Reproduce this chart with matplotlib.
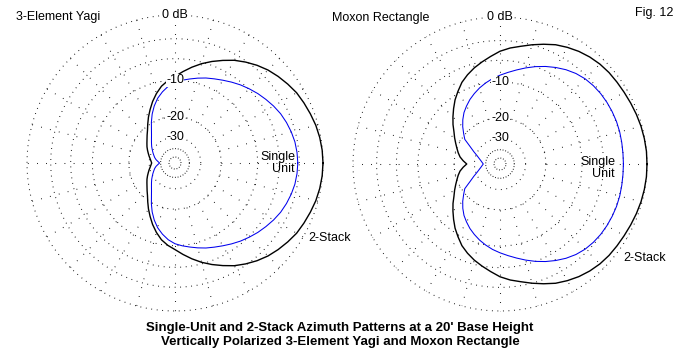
import numpy as np
import matplotlib
matplotlib.use("Agg")
import matplotlib.pyplot as plt

plt.rcParams['font.family'] = ['Liberation Sans', 'DejaVu Sans']

## azimuth angles (deg) 0..180, patterns are symmetric about the boresight
angles = list(range(0, 181, 5))

## 3-Element Yagi (dB)
yagi_single = [-3.2, -3.25, -3.35, -3.55, -3.8, -4.1, -4.5, -4.95, -5.4, -5.9,
               -6.4, -6.95, -7.5, -8.0, -8.45, -8.95, -9.45, -9.9, -10.4,
               -11.2, -12.3, -13.6, -15.3, -17.3, -19.6, -22.0, -24.0, -25.6,
               -27.0, -28.3, -29.7, -31.0, -32.3, -33.5, -35.0, -37.0, -38.8]
yagi_stack = [0.0, -0.03, -0.12, -0.26, -0.47, -0.68, -0.9, -1.25, -1.62, -2.03,
              -2.55, -3.15, -3.8, -4.6, -5.4, -6.25, -7.2, -8.2, -9.2,
              -10.0, -11.0, -12.4, -14.0, -15.8, -17.6, -19.5, -21.3, -22.7,
              -24.0, -25.1, -26.1, -27.2, -28.3, -29.3, -30.3, -31.1, -31.7]

## Moxon Rectangle (dB)
moxon_single = [-3.0, -3.0, -2.97, -2.93, -2.92, -2.95, -3.0, -3.08, -3.22, -3.42,
                -3.75, -4.2, -4.75, -5.35, -6.0, -6.7, -7.4, -8.05, -8.65,
                -9.25, -9.95, -10.7, -11.55, -12.45, -13.5, -14.6, -16.0, -17.6,
                -19.4, -21.1, -25.0, -28.0, -30.8, -32.9, -34.7, -36.1, -37.3]
moxon_stack = [0.0, 0.0, -0.05, -0.12, -0.22, -0.33, -0.43, -0.5, -0.56, -0.68,
               -0.88, -1.15, -1.5, -1.9, -2.45, -3.0, -3.55, -4.0, -4.55,
               -5.3, -6.0, -6.7, -7.5, -8.4, -9.6, -10.8, -12.2, -13.6,
               -15.0, -16.5, -17.7, -18.9, -20.0, -21.0, -22.1, -23.7, -25.5]

ring_db = [0, -3, -6, -10, -20, -30]
ring_labels = {0: '0 dB', -10: '-10', -20: '-20', -30: '-30'}

W, H = 680, 360


def arrl(db):
    # ARRL log scale: 0.89 radius factor per 2 dB
    return 0.89 ** (-np.asarray(db) / 2.0)


def full(vals):
    v = list(vals)
    return v + v[-2::-1]


def polar_panel(cx, cy, R, single, stack):
    ax = fig.add_axes([(cx - 1.2 * R) / W, (H - cy - 1.2 * R) / H, 2.4 * R / W, 2.4 * R / H])
    ax.set_xlim(-1.2, 1.2)
    ax.set_ylim(-1.2, 1.2)
    ax.axis('off')
    t = np.linspace(0, 2 * np.pi, 400)
    for db in ring_db:
        r = arrl(db)
        ax.plot(r * np.cos(t), r * np.sin(t), color='black', lw=0.75,
                linestyle=(0, (0.8, 4.5)))
    for db in [-40, -55]:
        r = arrl(db)
        ax.plot(r * np.cos(t), r * np.sin(t), color='black', lw=0.75,
                linestyle=(0, (0.8, 1.8)))
    for a in range(0, 360, 15):
        ra = np.radians(a)
        ax.plot([arrl(-20) * np.cos(ra), np.cos(ra)], [arrl(-20) * np.sin(ra), np.sin(ra)],
                color='black', lw=0.75, linestyle=(0, (0.8, 8.0)))
    th = np.radians(angles + [360 - a for a in angles[-2::-1]])
    rs = arrl(full(single))
    rk = arrl(full(stack))
    ax.plot(rk * np.cos(th), rk * np.sin(th), color='black', lw=1.0)
    ax.plot(rs * np.cos(th), rs * np.sin(th), color='#0000ee', lw=0.75)
    for db, lab in ring_labels.items():
        ax.text(0, arrl(db), lab, ha='center', va='center', fontsize=9,
                bbox=dict(facecolor='white', edgecolor='none', pad=0.3))
    return ax


fig = plt.figure(figsize=(6.8, 3.6), dpi=100)

polar_panel(175, 163, 148, yagi_single, yagi_stack)
polar_panel(500, 164, 147, moxon_single, moxon_stack)


def ftext(x, y, s, **kw):
    fig.text(x / W, 1 - y / H, s, fontsize=9, va='center', **kw)


ftext(16, 17, '3-Element Yagi', ha='left')
ftext(332, 18, 'Moxon Rectangle', ha='left')
ftext(673, 13, 'Fig. 12', ha='right')
ftext(295, 163, 'Single\nUnit', ha='right', linespacing=1.1)
ftext(615, 168, 'Single\nUnit', ha='right', linespacing=1.1)
ftext(308, 238, '2-Stack', ha='left')
ftext(623, 258, '2-Stack', ha='left')

fig.text(340 / W, 1 - 335 / H,
         "Single-Unit and 2-Stack Azimuth Patterns at a 20' Base Height\n"
         "Vertically Polarized 3-Element Yagi and Moxon Rectangle",
         ha='center', va='center', fontsize=9.5, fontweight='bold', linespacing=1.15)

fig.savefig('out.png', dpi=100)
